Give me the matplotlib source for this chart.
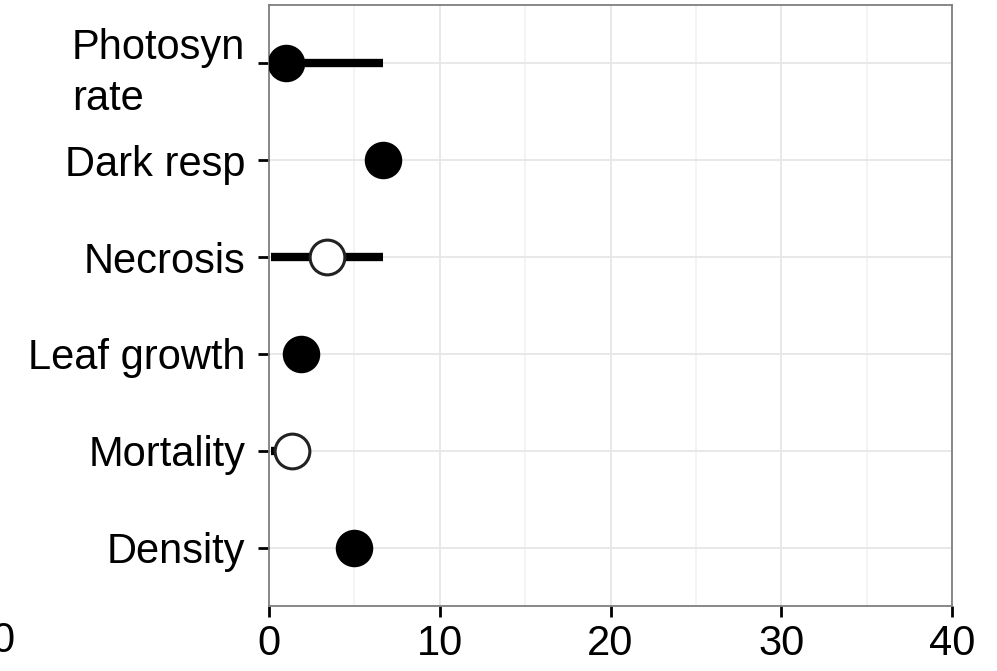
import matplotlib.pyplot as plt
from matplotlib.ticker import MultipleLocator

plt.rcParams['font.family'] = ['Liberation Sans', 'DejaVu Sans']

traits = ['Photosyn\nrate', 'Dark resp', 'Necrosis', 'Leaf growth', 'Mortality', 'Density']
est = [1.0, 6.7, 3.4, 1.9, 1.35, 5.0]
lo = [0.0, 6.7, 0.1, 1.9, 0.1, 5.0]
hi = [6.7, 6.7, 6.7, 1.9, 1.0, 5.0]
filled = [True, True, False, True, False, True]

ypos = list(range(len(traits), 0, -1))

fig = plt.figure(figsize=(9.97, 6.71), dpi=100)
ax = fig.add_axes([269 / 997, 1 - 606 / 671, 683 / 997, 601 / 671])

# bars behind points
for y, a, b in zip(ypos, lo, hi):
    if b > a:
        ax.plot([a, b], [y, y], color='black', lw=6, solid_capstyle='butt', zorder=3)

for y, x, f in zip(ypos, est, filled):
    ax.plot(x, y, 'o', ms=25, mfc='black' if f else 'white',
            mec='black' if f else '#222222', mew=2 if f else 2.2, zorder=4)

ax.set_xlim(0, 40)
ax.set_ylim(0.4, 6.6)
ax.set_yticks(ypos)
ax.set_yticklabels(traits)
ax.set_xticks([0, 10, 20, 30, 40])
ax.xaxis.set_minor_locator(MultipleLocator(5))

for lab in ax.get_yticklabels():
    if '\n' in lab.get_text():
        lab.set_multialignment('left')
        lab.set_linespacing(1.35)

ax.grid(True, which='major', color='#e6e6e6', lw=1.3, zorder=0)
ax.grid(True, which='minor', axis='x', color='#f3f3f3', lw=1.3, zorder=0)
ax.set_axisbelow(True)

for s in ax.spines.values():
    s.set_color('#7f7f7f')
    s.set_linewidth(1.3)

ax.tick_params(axis='both', which='major', length=8, width=2, color='black',
               labelsize=30, labelcolor='black')
ax.tick_params(axis='y', pad=9)
ax.tick_params(axis='x', pad=5)
ax.tick_params(which='minor', length=0)

# leftover label from a neighbouring panel, cut at the left edge as in the original
fig.text(3 / 997, 1 - 641 / 671, '0', fontsize=30, ha='center', va='center')

fig.savefig('out.png', dpi=100)
